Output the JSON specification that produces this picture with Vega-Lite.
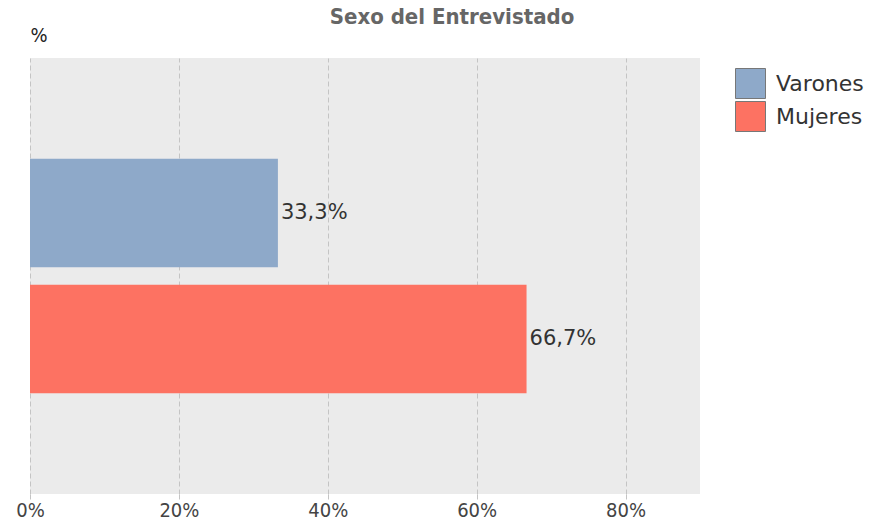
{
  "$schema": "https://vega.github.io/schema/vega-lite/v6.json",
  "width": 670,
  "height": 436,
  "autosize": {"type": "none"},
  "padding": {"left": 30, "top": 58, "right": 186, "bottom": 32},
  "background": "white",
  "config": {
    "locale": {"number": {"decimal": ",", "thousands": ".", "grouping": [3], "currency": ["", " €"]}},
    "view": {"fill": "#ebebeb", "stroke": null},
    "font": "DejaVu Sans"
  },
  "title": {
    "text": "Sexo del Entrevistado",
    "font": "DejaVu Sans Condensed, Liberation Sans Narrow, DejaVu Sans",
    "fontSize": 22,
    "fontWeight": "bold",
    "color": "#666666",
    "anchor": "middle",
    "frame": "group",
    "dx": 87,
    "dy": 6,
    "offset": 2
  },
  "data": {
    "values": [
      {"sexo": "Varones", "pct": 0.333},
      {"sexo": "Mujeres", "pct": 0.667}
    ]
  },
  "encoding": {
    "y": {
      "field": "sexo",
      "type": "nominal",
      "sort": ["Varones", "Mujeres"],
      "scale": {"paddingInner": 0.14, "paddingOuter": 0.8},
      "axis": {
        "title": "%",
        "titleAngle": 0,
        "titleX": 0,
        "titleY": -23,
        "titleAlign": "left",
        "titleBaseline": "middle",
        "titleFont": "DejaVu Sans Condensed, Liberation Sans Narrow, DejaVu Sans",
        "titleFontSize": 20,
        "titleFontWeight": "normal",
        "titleColor": "#222222",
        "labels": false,
        "ticks": false,
        "domain": false,
        "grid": false
      }
    },
    "x": {
      "field": "pct",
      "type": "quantitative",
      "scale": {"domain": [0, 0.9]},
      "axis": {
        "title": null,
        "format": ".0%",
        "values": [0, 0.2, 0.4, 0.6, 0.8],
        "grid": true,
        "gridColor": "#c4c4c4",
        "gridDash": [5, 3],
        "gridWidth": 1,
        "domain": false,
        "ticks": true,
        "tickSize": 5,
        "tickColor": "#c4c4c4",
        "tickDash": [5, 3],
        "labelFont": "DejaVu Sans Condensed, Liberation Sans Narrow, DejaVu Sans",
        "labelFontSize": 20,
        "labelColor": "#444444",
        "labelPadding": 1,
        "labelFlush": false
      }
    }
  },
  "layer": [
    {
      "mark": {"type": "bar"},
      "encoding": {
        "color": {
          "field": "sexo",
          "type": "nominal",
          "sort": ["Varones", "Mujeres"],
          "scale": {"domain": ["Varones", "Mujeres"], "range": ["#8ea9c9", "#fd7262"]},
          "legend": {
            "title": null,
            "orient": "none",
            "legendX": 705,
            "legendY": 10,
            "symbolType": "square",
            "symbolSize": 900,
            "symbolStrokeColor": "#777777",
            "symbolStrokeWidth": 1,
            "symbolOpacity": 1,
            "rowPadding": -18,
            "labelFont": "DejaVu Sans",
            "labelFontSize": 22,
            "labelColor": "#333333",
            "labelOffset": 10
          }
        }
      }
    },
    {
      "mark": {"type": "text", "align": "left", "baseline": "middle", "dx": 3, "fontSize": 21, "color": "#333333", "font": "DejaVu Sans"},
      "encoding": {
        "text": {"field": "pct", "type": "quantitative", "format": ".1%"}
      }
    }
  ]
}
